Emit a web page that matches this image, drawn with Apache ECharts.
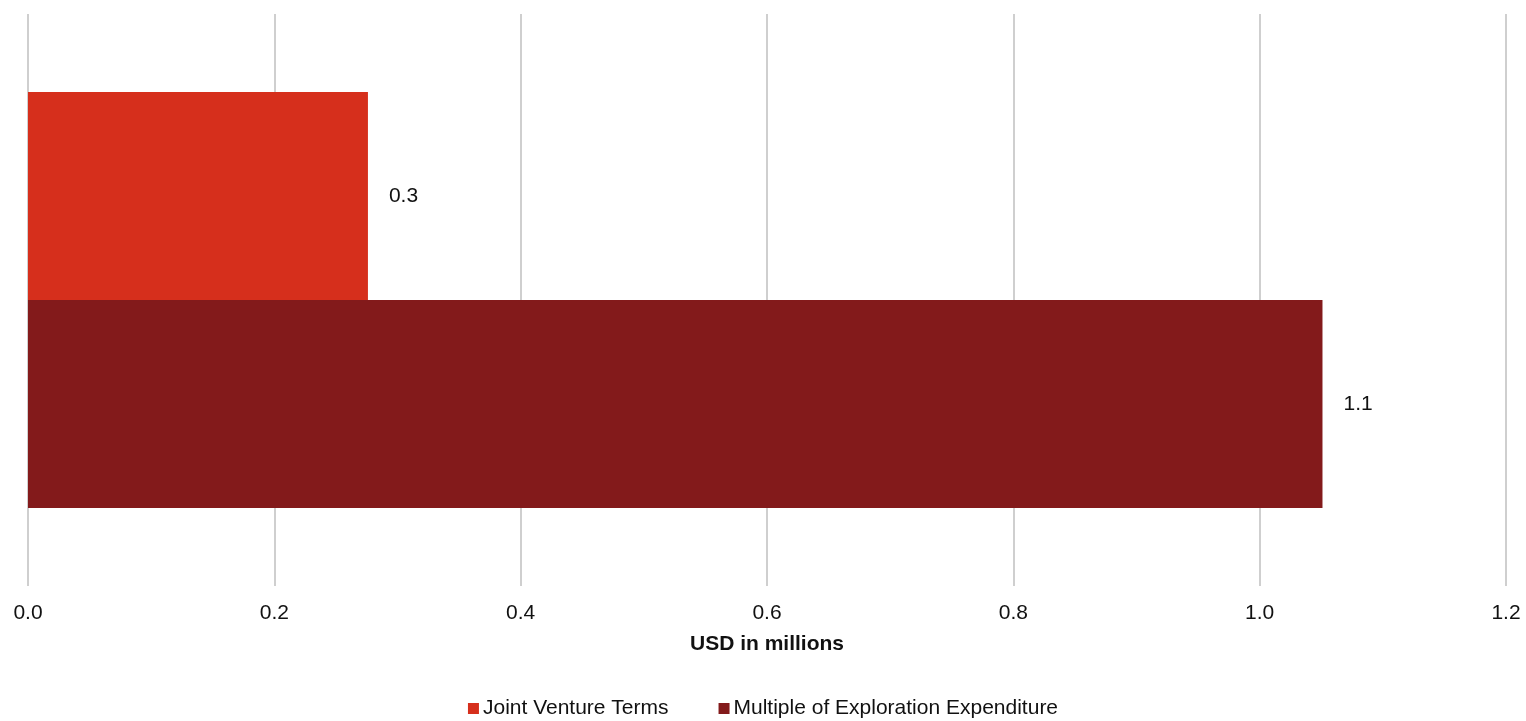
<!DOCTYPE html>
<html>
<head>
<meta charset="utf-8">
<title>Joint venture value</title>
<script src="https://cdn.jsdelivr.net/npm/echarts@6/dist/echarts.min.js"></script>
<style>
  html, body { margin: 0; padding: 0; background: #ffffff; }
  #chart { width: 1526px; height: 721px; }
</style>
</head>
<body>
<div id="chart"></div>
<script>
// Single category, two series drawn side by side as horizontal bars
const categories = [''];
const seriesNames = ['Joint Venture Terms', 'Multiple of Exploration Expenditure'];
const jointVentureTerms = [0.276];
const multipleOfExpenditure = [1.051];
const seriesColors = ['#D62F1C', '#831A1B'];
const xTicks = { min: 0, max: 1.2, interval: 0.2 };

const FONT = '"Liberation Sans", Arial, sans-serif';
const FONT_SIZE = 21;

const chart = echarts.init(document.getElementById('chart'), null, { renderer: 'canvas' });

const valueLabel = {
  show: true,
  position: 'right',
  distance: 21,
  color: '#111111',
  fontFamily: FONT,
  fontSize: FONT_SIZE,
  formatter: p => Number(p.value).toFixed(1)
};

chart.setOption({
  animation: false,
  backgroundColor: '#ffffff',
  grid: { left: 28, right: 20, top: 14, bottom: 135, containLabel: false },
  legend: {
    bottom: -3,
    left: 'center',
    itemWidth: 11,
    itemHeight: 11,
    itemGap: 50,
    icon: 'rect',
    textStyle: { fontFamily: FONT, fontSize: FONT_SIZE, color: '#111111', padding: [0, 0, 0, -1] },
    data: seriesNames
  },
  xAxis: {
    type: 'value',
    min: xTicks.min,
    max: xTicks.max,
    interval: xTicks.interval,
    name: 'USD in millions',
    nameLocation: 'middle',
    nameGap: 48,
    nameTextStyle: { fontFamily: FONT, fontSize: FONT_SIZE, fontWeight: 'bold', color: '#111111' },
    axisLine: { show: false },
    axisTick: { show: false },
    axisLabel: {
      margin: 17,
      fontFamily: FONT,
      fontSize: FONT_SIZE,
      color: '#111111',
      formatter: v => v.toFixed(1)
    },
    splitLine: { show: true, lineStyle: { color: '#cfcfcf', width: 2 } }
  },
  yAxis: {
    type: 'category',
    data: categories,
    inverse: true,
    axisLine: { show: false },
    axisTick: { show: false },
    axisLabel: { show: false },
    splitLine: { show: false }
  },
  series: [
    {
      name: seriesNames[0],
      type: 'bar',
      data: jointVentureTerms,
      itemStyle: { color: seriesColors[0] },
      barGap: '0%',
      barCategoryGap: '27.3%',
      label: valueLabel
    },
    {
      name: seriesNames[1],
      type: 'bar',
      data: multipleOfExpenditure,
      itemStyle: { color: seriesColors[1] },
      barGap: '0%',
      barCategoryGap: '27.3%',
      label: valueLabel
    }
  ]
});
</script>
</body>
</html>
